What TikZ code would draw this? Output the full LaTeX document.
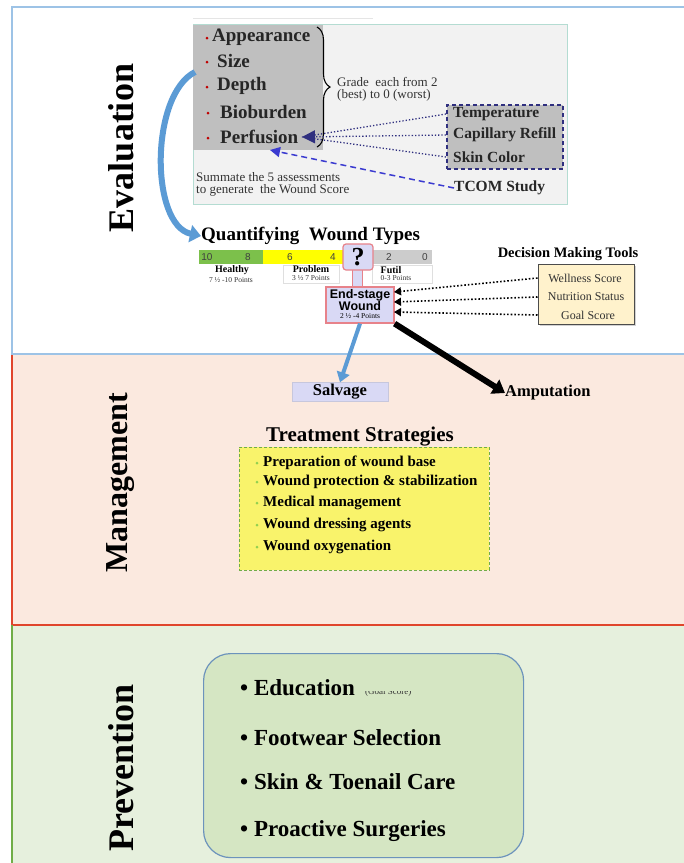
\documentclass[tikz,border=0pt]{standalone}
\usepackage{fontspec}
\setmainfont{Liberation Serif}
\newfontfamily\arialfont{Liberation Sans}
\usepackage{tikz}
\usetikzlibrary{arrows.meta, shapes, positioning, decorations.pathreplacing, shadows}

\definecolor{evalblue}{HTML}{9DC3E6}
\definecolor{mgmtfill}{HTML}{FBE9DF}
\definecolor{mgmtred}{HTML}{E0452C}
\definecolor{prevfill}{HTML}{E6F0DD}
\definecolor{prevgreen}{HTML}{70AD47}
\definecolor{panelgray}{HTML}{F2F2F2}
\definecolor{framegreen}{HTML}{B4DCD2}
\definecolor{boxgray}{HTML}{BFBFBF}
\definecolor{navyline}{HTML}{2F2F7F}
\definecolor{tcomblue}{HTML}{3B3BD0}
\definecolor{arrowblue}{HTML}{5B9BD5}
\definecolor{lavender}{HTML}{D9D9F5}
\definecolor{pinkline}{HTML}{E7828A}
\definecolor{bargreen}{HTML}{7CC04B}
\definecolor{baryellow}{HTML}{FFFF00}
\definecolor{creamfill}{HTML}{FFF2CC}
\definecolor{treatyellow}{HTML}{F9F36B}
\definecolor{prevbox}{HTML}{D5E6C3}
\definecolor{prevborder}{HTML}{6C93BC}
\definecolor{bulletred}{HTML}{C00000}
\definecolor{bulletgreen}{HTML}{92D050}

\newcommand{\fsect}{\fontsize{36}{36}\selectfont\bfseries}
\newcommand{\fsectm}{\fontsize{32}{32}\selectfont\bfseries}
\newcommand{\fcrit}{\fontsize{19}{19}\selectfont\bfseries}
\newcommand{\fnote}{\fontsize{13}{12}\selectfont}
\newcommand{\fphys}{\fontsize{15.5}{16}\selectfont\bfseries}
\newcommand{\fquant}{\fontsize{19}{19}\selectfont\bfseries}
\newcommand{\fnum}{\arialfont\fontsize{10}{10}\selectfont}
\newcommand{\flabel}{\fontsize{10}{10}\selectfont\bfseries}
\newcommand{\ftiny}{\fontsize{7.5}{7.5}\selectfont}
\newcommand{\fend}{\arialfont\fontsize{12.5}{12}\selectfont\bfseries}
\newcommand{\fdm}{\fontsize{14.5}{15}\selectfont\bfseries}
\newcommand{\ftool}{\fontsize{12}{12}\selectfont}
\newcommand{\fout}{\fontsize{16.5}{17}\selectfont\bfseries}
\newcommand{\ftreat}{\fontsize{21}{21}\selectfont\bfseries}
\newcommand{\fstrat}{\fontsize{15}{15}\selectfont\bfseries}
\newcommand{\fprev}{\fontsize{23}{23}\selectfont\bfseries}

\begin{document}
\begin{tikzpicture}[x=1pt,y=-1pt]
\useasboundingbox (0,0) rectangle (684,863);

% three panels
\fill[white] (12,7) rectangle (684,354);
\fill[mgmtfill] (12,354) rectangle (684,625);
\fill[prevfill] (12,625) rectangle (684,863);
\draw[mgmtred, line width=1.2] (12,354) -- (12,625) -- (684,625);
\draw[prevgreen, line width=1.2] (12,625) -- (12,863);
\draw[evalblue, line width=1.2] (684,7) -- (12,7) -- (12,354) -- (684,354);

\begin{scope}[every node/.style={rotate=90, font=\fsect}]
    \node (evaltitle) at (121,148) {Evaluation};
    \node[font=\fsectm] (mgmttitle) at (121,483) {Management};
    \node (prevtitle) at (121,768) {Prevention};
\end{scope}

% wound score panel
\draw[gray!20] (193,18) -- (373,18);
\node[draw=framegreen, fill=panelgray, anchor=north west, inner sep=0,
      minimum width=374pt, minimum height=180pt] (evalframe) at (193,24) {};
\node[fill=boxgray, anchor=north west, inner sep=0,
      minimum width=130pt, minimum height=125pt] (critbox) at (193,25) {};

\begin{scope}[every node/.style={circle, fill=bulletred, inner sep=0, minimum size=3pt}]
    \node (b1) at (207,38) {};
    \node (b2) at (207,62) {};
    \node (b3) at (207,87) {};
    \node (b4) at (208,113) {};
    \node (b5) at (208,138) {};
\end{scope}

\begin{scope}[every node/.style={anchor=west, inner sep=0, font=\fcrit, text=black!85}]
    \node (appear) at (212,37) {Appearance};
    \node (size) at (217,61) {Size};
    \node (depth) at (217,86) {Depth};
    \node (bioburd) at (220,112) {Bioburden};
    \node (perf) at (220,137) {Perfusion};
\end{scope}

\draw[decorate, decoration={brace, amplitude=13pt}, line width=1.1]
    (317,27) -- (317,147);

\node[anchor=west, inner sep=0, font=\fnote, align=left, text=black!80] (grade) at (337,89)
    {Grade\ \ each from 2\\(best) to 0 (worst)};
\node[anchor=west, inner sep=0, font=\fnote, align=left, text=black!80] (summate) at (196,184)
    {Summate the 5 assessments\\to generate\ \ the Wound Score};

\node[draw=navyline, dash pattern=on 4pt off 3pt, line width=1.5, fill=boxgray,
      anchor=north west, inner sep=0, minimum width=116pt, minimum height=64pt] (physbox) at (446,104) {};
\begin{scope}[every node/.style={anchor=west, inner sep=0, font=\fphys, text=black!85}]
    \node (temp) at (453,114) {Temperature};
    \node (capil) at (453,135) {Capillary Refill};
    \node (skin) at (453,157) {Skin Color};
    \node (tcom) at (454,188) {TCOM Study};
\end{scope}

\coordinate (perftip) at (302,137);
\coordinate (perfbot) at (270,150);
\coordinate (curvestart) at (195,72);

% wound types scale
\node[anchor=west, inner sep=0, font=\fquant] (quant) at (201,236) {Quantifying\ \ Wound Types};
\fill[bargreen] (199,250) rectangle (263,264);
\fill[baryellow] (263,250) rectangle (345,264);
\fill[boxgray!80] (371,250) rectangle (432,264);
\begin{scope}[every node/.style={font=\fnum, inner sep=0, text=black!75}]
    \node (n10) at (207,257) {10};
    \node (n8) at (248,257) {8};
    \node (n6) at (290,257) {6};
    \node (n4) at (333,257) {4};
    \node (n2) at (389,257) {2};
    \node (n0) at (425,257) {0};
\end{scope}
\node[draw=gray!25, fill=white, inner sep=0, minimum width=56pt, minimum height=18pt] (probbox) at (311,274) {};
\node[draw=gray!25, fill=white, inner sep=0, minimum width=60pt, minimum height=18pt] (futbox) at (402,274) {};
\begin{scope}[every node/.style={font=\flabel, inner sep=0}]
    \node (healthy) at (232,270) {Healthy};
    \node (problem) at (311,269) {Problem};
    \node (futil) at (391,270) {Futil};
\end{scope}
\begin{scope}[every node/.style={font=\ftiny, inner sep=0, text=black!80}]
    \node (healthypts) at (231,280) {7 ½ -10 Points};
    \node (problempts) at (311,278) {3 ½ 7 Points};
    \node (futilpts) at (396,278) {0-3 Points};
\end{scope}

\fill[lavender, draw=pinkline, line width=1] (352,268) rectangle (362,288);
\node[draw=pinkline, fill=lavender, line width=1.2, rounded corners=3pt, inner sep=0,
      minimum width=30pt, minimum height=26pt, font=\fontsize{26}{26}\selectfont\bfseries] (qbox) at (358,257) {?};
\node[draw=pinkline, fill=lavender, line width=1.2, inner sep=0,
      minimum width=68pt, minimum height=36pt] (endst) at (360,305) {};
\begin{scope}[every node/.style={inner sep=0}]
    \node[font=\fend] (endtxt) at (360,295) {End-stage};
    \node[font=\fend] (woundtxt) at (360,306) {Wound};
    \node[font=\ftiny] (endpts) at (360,316) {2 ½ -4 Points};
\end{scope}

% decision making tools
\node[font=\fdm, inner sep=0] (dmtitle) at (568,254) {Decision Making Tools};
\node[draw=black!70, fill=creamfill, line width=1, inner sep=0,
      minimum width=96pt, minimum height=60pt,
      drop shadow={shadow xshift=2pt, shadow yshift=-2pt, fill=gray!70}] (dmbox) at (586,294) {};
\begin{scope}[every node/.style={font=\ftool, inner sep=0, text=black!80}]
    \node (well) at (585,278) {Wellness Score};
    \node (nutri) at (586,297) {Nutrition Status};
    \node (goal) at (588,315) {Goal Score};
\end{scope}
\coordinate (es1) at (394,292);
\coordinate (es2) at (394,302);
\coordinate (es3) at (394,312);

% outcomes
\node[fill=lavender, draw=lavender!80!gray, inner sep=0, minimum width=96pt, minimum height=19pt,
      font=\fout] (salvage) at (340,392) {Salvage};
\node[anchor=west, inner sep=0, font=\fout] (amput) at (505,393) {Amputation};

% treatment
\node[font=\ftreat, inner sep=0] (treattitle) at (360,437) {Treatment Strategies};
\node[draw=prevgreen, dash pattern=on 3pt off 2pt, fill=treatyellow, anchor=north west,
      inner sep=0, minimum width=250pt, minimum height=123pt] (treatbox) at (239,447) {};
\begin{scope}[every node/.style={circle, fill=bulletgreen, inner sep=0, minimum size=3pt}]
    \node (g1) at (257,463) {};
    \node (g2) at (257,482) {};
    \node (g3) at (257,503) {};
    \node (g4) at (257,525) {};
    \node (g5) at (257,547) {};
\end{scope}
\begin{scope}[every node/.style={anchor=west, inner sep=0, font=\fstrat}]
    \node (prep) at (263,463) {Preparation of wound base};
    \node (protect) at (263,482) {Wound protection \& stabilization};
    \node (medical) at (263,503) {Medical management};
    \node (dressing) at (263,525) {Wound dressing agents};
    \node (oxygen) at (263,547) {Wound oxygenation};
\end{scope}

% prevention
\node[draw=prevborder, line width=1.2, fill=prevbox, rounded corners=27pt, anchor=north west,
      inner sep=0, minimum width=320pt, minimum height=204pt] (prevbox) at (203,653) {};
\begin{scope}[every node/.style={anchor=west, inner sep=0, font=\fprev}]
    \node (educ) at (240,688) {•\ Education};
    \node (footw) at (240,738) {•\ Footwear Selection};
    \node (skincare) at (240,782) {•\ Skin \& Toenail Care};
    \node (surg) at (240,831) {•\ Proactive Surgeries};
\end{scope}
\begin{scope}
    \clip (360,691) rectangle (450,700);
    \node[anchor=west, inner sep=0, font=\fontsize{9}{9}\selectfont, text=black!80] (goalnote) at (365,692) {(Goal Score)};
\end{scope}

% connectors
\begin{scope}[>={Stealth[black]},
              every edge/.style={draw=black}]
    \path (temp.west -| physbox.west) edge[navyline, line width=1.3, dotted] (perftip);
    \path (capil.west -| physbox.west) edge[navyline, line width=1.3, dotted,
          -{Triangle[width=13pt,length=13pt]}] (perftip);
    \path (skin.west -| physbox.west) edge[navyline, line width=1.3, dotted] (perftip);
    \path (tcom.west) edge[tcomblue, line width=1.5, dash pattern=on 6pt off 4pt,
          -{Triangle[width=10pt,length=10pt]}] (perfbot);

    \path (well.west -| dmbox.west) edge[line width=1.6, dotted, -{Triangle[width=8pt,length=7pt]}] (es1);
    \path (nutri.west -| dmbox.west) edge[line width=1.6, dotted, -{Triangle[width=8pt,length=7pt]}] (es2);
    \path (goal.west -| dmbox.west) edge[line width=1.6, dotted, -{Triangle[width=8pt,length=7pt]}] (es3);

    \path (endst.south) edge[draw=arrowblue, line width=4, -{Triangle[width=13pt,length=10pt]}] (salvage.north);
    \path (endst.south east) edge[line width=6, -{Triangle[width=16pt,length=12pt]}] (amput.west);
\end{scope}
\draw[arrowblue, line width=6, -{Triangle[width=17pt,length=11pt]}]
    (curvestart) .. controls (150,95) and (150,225) .. (quant.west);
\end{tikzpicture}
\end{document}
